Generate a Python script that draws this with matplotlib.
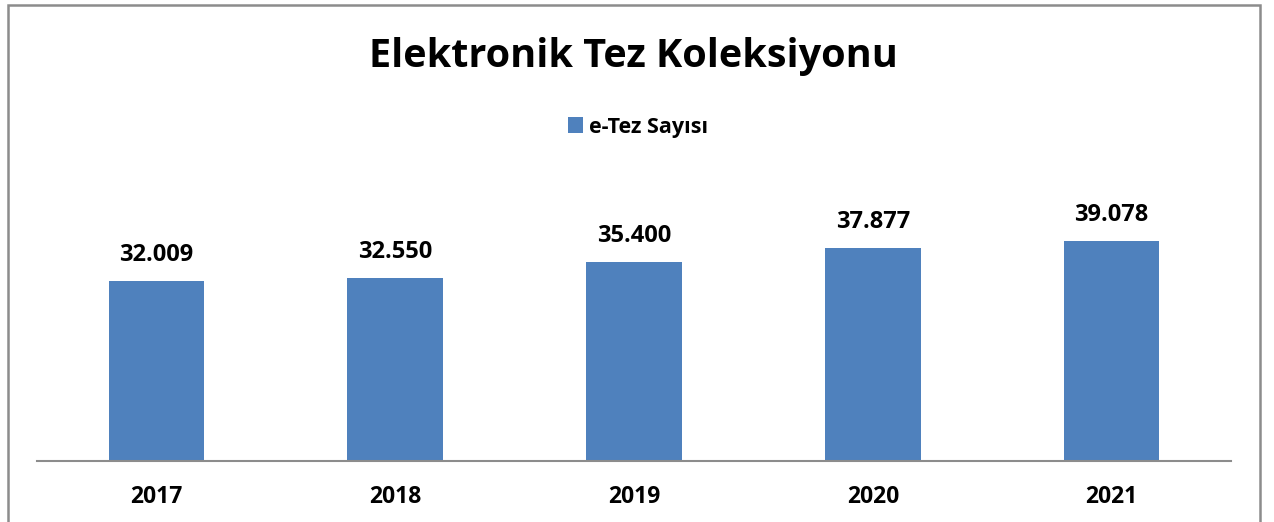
import matplotlib.pyplot as plt
from matplotlib.patches import Rectangle

# e-Tez counts per year
years = ['2017', '2018', '2019', '2020', '2021']
tez_counts = [32009, 32550, 35400, 37877, 39078]
value_labels = ['32.009', '32.550', '35.400', '37.877', '39.078']

plt.rcParams['font.family'] = ['Open Sans', 'DejaVu Sans']
plt.rcParams['font.weight'] = 'bold'

fig = plt.figure(figsize=(12.74, 5.22), dpi=100)
ax = fig.add_axes([37 / 1274, 61 / 522, 1194 / 1274, 253.3 / 522])

bars = ax.bar(range(len(years)), tez_counts, width=0.4, color='#4F81BD',
              label='e-Tez Sayısı')
ax.set_xlim(-0.5, len(years) - 0.5)
ax.set_ylim(0, 45000)
ax.set_xticks(range(len(years)))
ax.set_xticklabels(years, fontsize=16.5, fontweight='bold')
ax.tick_params(axis='x', length=0, pad=17)
ax.set_yticks([])
for s in ['top', 'right', 'left']:
    ax.spines[s].set_visible(False)
ax.spines['bottom'].set_color('#8c8c8c')
ax.spines['bottom'].set_linewidth(1.5)

for b, lab in zip(bars, value_labels):
    ax.annotate(lab, (b.get_x() + b.get_width() / 2, b.get_height()),
                xytext=(0, 10), textcoords='offset points',
                ha='center', va='bottom', fontsize=17, fontweight='bold')

fig.text(633 / 1274, 1 - 57 / 522, 'Elektronik Tez Koleksiyonu',
         ha='center', va='center', fontsize=28.5, fontweight='bold')

fig.legend(loc='center', bbox_to_anchor=(638 / 1274, 1 - 127 / 522),
           frameon=False, prop={'size': 15.5, 'weight': 'bold'},
           handlelength=0.7, handleheight=0.7, handletextpad=0.3)

# chart border
fig.patches.append(Rectangle((7.5 / 1274, -0.1), 1252.5 / 1274, 1.1 - 4.5 / 522,
                             transform=fig.transFigure, fill=False,
                             edgecolor='#8c8c8c', linewidth=1.8))

fig.savefig('out.png', dpi=100)
